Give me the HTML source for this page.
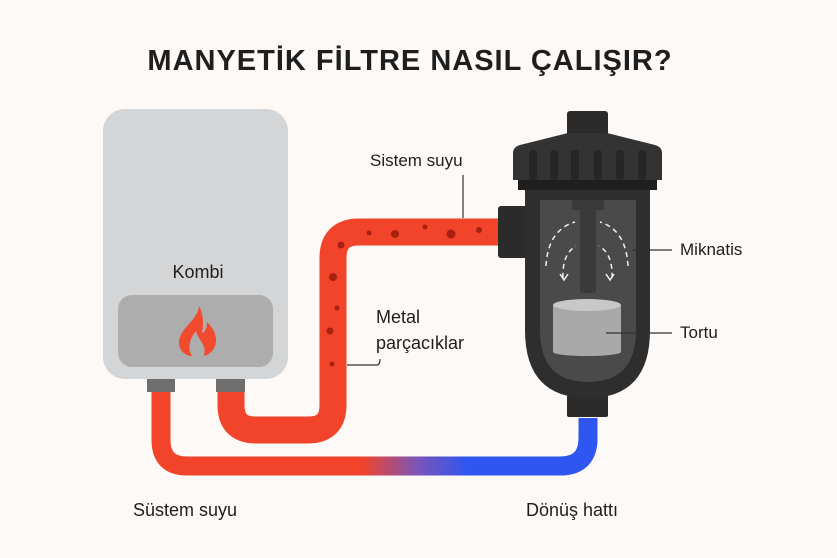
<!DOCTYPE html>
<html><head><meta charset="utf-8"><style>
body{margin:0;background:#fcf9f6;}
svg{display:block}
text{font-family:"Liberation Sans","DejaVu Sans",sans-serif;fill:#1e1e1e}
</style></head><body>
<svg width="837" height="558" viewBox="0 0 837 558" xmlns="http://www.w3.org/2000/svg">
<defs>
<linearGradient id="g" x1="0" x2="1" y1="0" y2="0">
<stop offset="0" stop-color="#f2442a"/><stop offset="0.47" stop-color="#f2442a"/>
<stop offset="0.6" stop-color="#7a55b8"/><stop offset="0.72" stop-color="#2f56f0"/><stop offset="1" stop-color="#2f56f0"/>
</linearGradient>
</defs>
<rect width="837" height="558" fill="#fcf9f6"/>
<text x="410" y="70" text-anchor="middle" font-size="29" font-weight="bold" letter-spacing="1">MANYETİK FİLTRE NASIL ÇALIŞIR?</text>
<!-- kombi -->
<rect x="103" y="109" width="185" height="270" rx="22" fill="#d4d5d6"/>
<text x="198" y="278" text-anchor="middle" font-size="18">Kombi</text>
<rect x="118" y="295" width="155" height="72" rx="14" fill="#adadad"/>
<path d="M199 306 C197 322 179 328 179 343 C179 351 186 356 192 356 C187 348 190 338 196 331 C198 340 207 344 204 356 C211 354 216 348 216 340 C216 333 212 327 207 322 C207 329 205 332 202 333 C204 322 203 314 199 306 Z" fill="#f24a2e"/>
<rect x="147" y="379" width="28" height="13" fill="#6f6f6f"/>
<rect x="216" y="379" width="29" height="13" fill="#6f6f6f"/>
<path d="M161 392 V440 Q161 466 187 466 H560 Q588 466 588 438 V418" fill="none" stroke="url(#g)" stroke-width="19"/>
<path d="M560 466 Q588 466 588 438 V418" fill="none" stroke="#2f56f0" stroke-width="19"/>
<path d="M231 392 V405 Q231 430 256 430 H308 Q333 430 333 405 V258 Q333 232 359 232 H505" fill="none" stroke="#f2442a" stroke-width="27"/>
<g fill="#a8200f">
<circle cx="369" cy="233" r="2.5"/><circle cx="395" cy="234" r="4"/><circle cx="425" cy="227" r="2.5"/><circle cx="451" cy="234" r="4.5"/><circle cx="479" cy="230" r="3"/>
<circle cx="341" cy="245" r="3.5"/><circle cx="333" cy="277" r="4"/><circle cx="337" cy="308" r="2.5"/><circle cx="330" cy="331" r="3.5"/><circle cx="332" cy="364" r="2.5"/>
</g>
<text x="370" y="166" font-size="17">Sistem suyu</text>
<line x1="463" y1="175" x2="463" y2="218" stroke="#333" stroke-width="1.2"/>
<text x="376" y="323" font-size="18">Metal</text>
<text x="376" y="349" font-size="18">parçacıklar</text>
<path d="M347 365 H377 Q380 365 380 359" fill="none" stroke="#333" stroke-width="1.2"/>
<!-- filter -->
<rect x="498" y="206" width="30" height="52" rx="3" fill="#2b2b2b"/>
<rect x="567" y="111" width="41" height="28" rx="3" fill="#2b2b2b"/>
<rect x="567" y="395" width="41" height="22" rx="2" fill="#2b2b2b"/>
<path d="M525 185 H650 V330 Q650 398 588 398 Q525 398 525 330 Z" fill="#2e2e2e"/>
<path d="M540 200 H636 V330 Q636 382 588 382 Q540 382 540 330 Z" fill="#4a4a4a"/>
<path d="M520 145 L568 133 H607 L655 145 Q662 147 662 153 V180 H513 V153 Q513 147 520 145 Z" fill="#333"/>
<g fill="#262626"><rect x="529" y="150" width="8" height="30" rx="3"/><rect x="550" y="150" width="8" height="30" rx="3"/><rect x="571" y="150" width="8" height="30" rx="3"/><rect x="594" y="150" width="8" height="30" rx="3"/><rect x="616" y="150" width="8" height="30" rx="3"/><rect x="638" y="150" width="8" height="30" rx="3"/></g>
<rect x="518" y="180" width="139" height="10" fill="#1f1f1f"/>
<rect x="580" y="200" width="16" height="93" rx="3" fill="#3a3a3a"/>
<rect x="572" y="200" width="32" height="10" fill="#3a3a3a"/>
<g fill="none" stroke="#eee" stroke-width="1.5" stroke-dasharray="5,4">
<path d="M546 266 Q548 230 575 222"/><path d="M563 278 Q562 254 576 246"/>
<path d="M628 266 Q626 230 600 222"/><path d="M612 278 Q613 254 599 246"/>
</g>
<g fill="none" stroke="#eee" stroke-width="1.5"><path d="M560 274 L564 280 L568 274"/><path d="M606 274 L610 280 L614 274"/></g>
<rect x="553" y="305" width="68" height="47" fill="#a9a9a9"/>
<ellipse cx="587" cy="352" rx="34" ry="4" fill="#a9a9a9"/>
<ellipse cx="587" cy="305" rx="34" ry="6" fill="#c8c8c8"/>
<line x1="633" y1="250" x2="672" y2="250" stroke="#333" stroke-width="1.2"/>
<line x1="606" y1="333" x2="672" y2="333" stroke="#333" stroke-width="1.2"/>
<text x="680" y="255" font-size="17">Miknatis</text>
<text x="680" y="338" font-size="17">Tortu</text>
<text x="133" y="516" font-size="18">Süstem suyu</text>
<text x="526" y="516" font-size="18">Dönüş hattı</text>
</svg>
</body></html>
